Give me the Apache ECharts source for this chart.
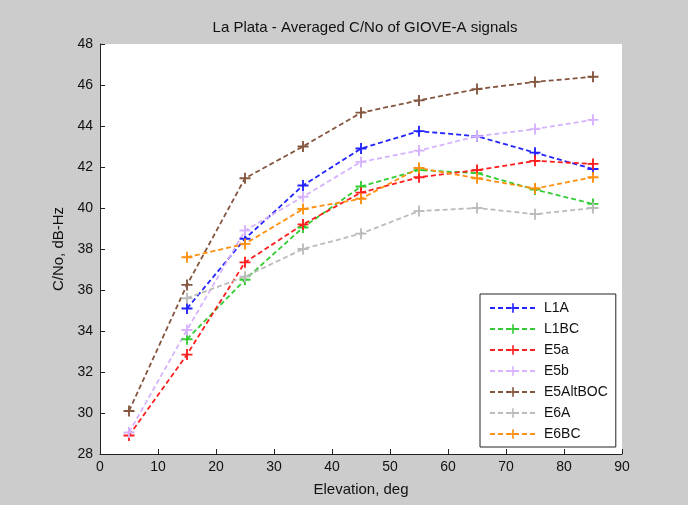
<!DOCTYPE html>
<html>
<head>
<meta charset="utf-8">
<script src="https://cdn.jsdelivr.net/npm/echarts@6/dist/echarts.min.js"></script>
<style>
html,body{margin:0;padding:0;background:#cccccc;}
#chart{width:688px;height:505px;}
</style>
</head>
<body>
<div id="chart"></div>
<script>
var elevations = [5, 15, 25, 35, 45, 55, 65, 75, 85];
var L1A      = [null, 35.1, 38.5, 41.1, 42.9, 43.75, 43.5, 42.7, 41.9];
var L1BC     = [null, 33.6, 36.5, 39.05, 41.05, 41.85, 41.7, 40.9, 40.2];
var E5a      = [28.9, 32.85, 37.35, 39.2, 40.75, 41.5, 41.85, 42.3, 42.15];
var E5b      = [29.05, 34.05, 38.9, 40.55, 42.25, 42.8, 43.5, 43.85, 44.3];
var E5AltBOC = [30.1, 36.25, 41.45, 43.0, 44.65, 45.25, 45.8, 46.15, 46.4];
var E6A      = [null, 35.6, 36.65, 38.0, 38.75, 39.85, 40.0, 39.7, 40.0];
var E6BC     = [null, 37.6, 38.25, 39.95, 40.45, 41.95, 41.45, 40.95, 41.5];
var xTicks = {min: 0, max: 90, interval: 10};
var yTicks = {min: 28, max: 48, interval: 2};

var seriesDefs = [
  ['L1A', L1A, '#2323ff'],
  ['L1BC', L1BC, '#33cc33'],
  ['E5a', E5a, '#ff1e1e'],
  ['E5b', E5b, '#d6b2ff'],
  ['E5AltBOC', E5AltBOC, '#85563f'],
  ['E6A', E6A, '#bbbbbb'],
  ['E6BC', E6BC, '#ff9010']
];
var plus = 'path://M-1.7,-10H1.7V-1.7H10V1.7H1.7V10H-1.7V1.7H-10V-1.7H-1.7Z';
var font = 'Liberation Sans, Arial, sans-serif';

var series = seriesDefs.map(function (d) {
  return {
    name: d[0],
    type: 'line',
    data: elevations.map(function (e, i) { return [e, d[1][i]]; }),
    symbol: plus,
    symbolSize: 11,
    showAllSymbol: true,
    lineStyle: {color: d[2], width: 1.8, type: [5, 3]},
    itemStyle: {color: d[2], borderWidth: 0},
    emphasis: {disabled: true}
  };
});

var chart = echarts.init(document.getElementById('chart'));
chart.setOption({
  animation: false,
  backgroundColor: '#cccccc',
  title: {
    text: 'La Plata - Averaged C/No of GIOVE-A signals',
    left: 360, top: 15, textAlign: 'center',
    textStyle: {fontFamily: font, fontSize: 15, fontWeight: 'normal', color: '#111'}
  },
  grid: {left: 100, right: 66, top: 44, bottom: 51, show: true, backgroundColor: '#ffffff', borderWidth: 0},
  legend: {
    orient: 'vertical',
    left: 480, top: 294,
    padding: [7, 8, 6, 9],
    itemWidth: 46, itemHeight: 12, itemGap: 7,
    backgroundColor: '#ffffff',
    borderColor: '#222', borderWidth: 1,
    textStyle: {fontFamily: font, fontSize: 14, color: '#111', padding: [0, 0, 0, 3]},
    data: seriesDefs.map(function (d) { return d[0]; })
  },
  xAxis: {
    type: 'value', min: xTicks.min, max: xTicks.max, interval: xTicks.interval,
    name: 'Elevation, deg', nameLocation: 'middle', nameGap: 28,
    nameTextStyle: {fontFamily: font, fontSize: 15, color: '#111'},
    axisLine: {lineStyle: {color: '#222', width: 1}},
    axisTick: {inside: true, length: 5, lineStyle: {color: '#222'}},
    axisLabel: {fontFamily: font, fontSize: 14, color: '#111', margin: 6},
    splitLine: {show: false}
  },
  yAxis: {
    type: 'value', min: yTicks.min, max: yTicks.max, interval: yTicks.interval,
    name: 'C/No, dB-Hz', nameLocation: 'middle', nameGap: 34,
    nameTextStyle: {fontFamily: font, fontSize: 15, color: '#111'},
    axisLine: {show: true, lineStyle: {color: '#222', width: 1}},
    axisTick: {show: true, inside: true, length: 5, lineStyle: {color: '#222'}},
    axisLabel: {fontFamily: font, fontSize: 14, color: '#111', margin: 7},
    splitLine: {show: false}
  },
  series: series
});
</script>
</body>
</html>
